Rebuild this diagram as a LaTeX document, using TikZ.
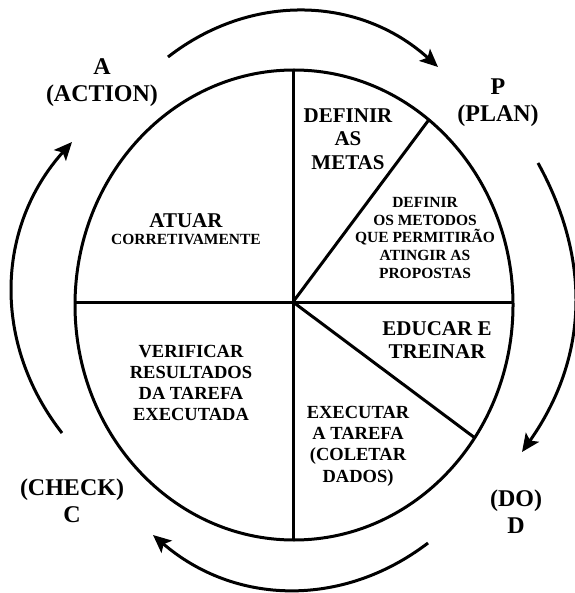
\documentclass[tikz,border=0pt]{standalone}
\usepackage{fontspec}
\setmainfont{Liberation Serif}
\usetikzlibrary{arrows.meta}
\tikzset{
  phase/.style={font=\fontsize{24}{27}\selectfont\bfseries,align=center,inner sep=0pt},
  bigtxt/.style={font=\fontsize{21}{23.5}\selectfont\bfseries,align=center,inner sep=0pt},
  midtxt/.style={font=\fontsize{18.5}{21.3}\selectfont\bfseries,align=center,inner sep=0pt},
  smalltxt/.style={font=\fontsize{15.5}{17.8}\selectfont\bfseries,align=center,inner sep=0pt},
  rim/.style={line width=3pt},
  cyc/.style={line width=3pt,-{Stealth[length=18pt,width=16pt,inset=4pt]}},
}

\begin{document}
\begin{tikzpicture}[x=1pt,y=-1pt]
  \useasboundingbox (0,0) rectangle (574,593);
  % the wheel and its six parts
  \coordinate (c) at (294,305);
  \coordinate (o) at (293,302);
  \draw[rim] (c) ellipse[x radius=219pt,y radius=235pt];
  \coordinate (top) at (293,70);
  \coordinate (bot) at (293,540);
  \coordinate (lft) at (75,302);
  \coordinate (rgt) at (513,302);
  \path (c) ++(52:219pt and 235pt) coordinate (ne);
  \path (c) ++(-34.4:219pt and 235pt) coordinate (se);
  \draw[rim] (top) -- (bot);
  \draw[rim] (lft) -- (rgt);
  \draw[rim] (o) -- (ne);
  \draw[rim] (o) -- (se);

  % arrows round the wheel
  \coordinate (a1) at (168,57);  \coordinate (a2) at (438,67);
  \coordinate (b1) at (538,163); \coordinate (b2) at (522,452);
  \coordinate (c1) at (428,543); \coordinate (c2) at (153,535);
  \coordinate (d1) at (62,433);  \coordinate (d2) at (72,142);
  \draw[cyc] (a1) to[bend left=40] (a2);
  \draw[cyc] (b1) to[bend left=32] (b2);
  \draw[cyc] (c1) to[bend left=39] (c2);
  \draw[cyc] (d1) to[bend left=40] (d2);

  % phase names
  \node[phase] (act) at (102,83) {A\\(ACTION)};
  \node[phase] (plan) at (498,103) {P\\(PLAN)};
  \node[phase] (chk) at (72,501) {(CHECK)\\C};
  \node[phase] (do) at (516,512) {(DO)\\D};

  % texts in the parts
  \node[bigtxt] (atuar) at (186,221) {ATUAR};
  \node[smalltxt] (corr) at (186,239) {CORRETIVAMENTE};
  \node[bigtxt] (metas) at (348,139) {DEFINIR\\AS\\METAS};
  \node[smalltxt] (metodos) at (425,238) {DEFINIR\\OS METODOS\\QUE PERMITIRÃO\\ATINGIR AS\\PROPOSTAS};
  \node[bigtxt] (educ) at (437,340) {EDUCAR E\\TREINAR};
  \node[midtxt] (exec) at (358,446) {EXECUTAR\\A TAREFA\\(COLETAR\\DADOS)};
  \node[midtxt] (verif) at (191,383) {VERIFICAR\\RESULTADOS\\DA TAREFA\\EXECUTADA};
\end{tikzpicture}
\end{document}
